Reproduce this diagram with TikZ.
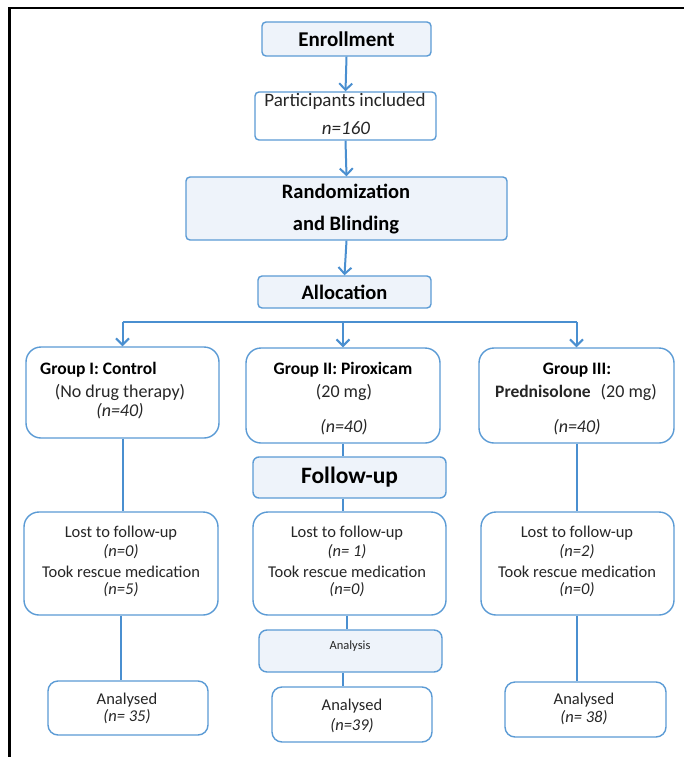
\documentclass[tikz,border=0pt]{standalone}
\usepackage{fontspec}
\setmainfont{Carlito}
\usetikzlibrary{arrows.meta}
\definecolor{bblue}{HTML}{5B9BD5}
\definecolor{ablue}{HTML}{4A8FD0}
\definecolor{fillb}{HTML}{EEF3FA}
\definecolor{ink}{HTML}{262626}
\begin{document}
\begin{tikzpicture}[x=1pt,y=-1pt,
  box/.style={draw=bblue,line width=1.4pt,rounded corners=#1,fill=white,inner sep=0pt},
  box/.default=4pt,
  hbox/.style={box=#1,fill=fillb},
  hbox/.default=4pt,
  conn/.style={draw=ablue,line width=2pt},
  arr/.style={conn,-{Straight Barb[length=6.5pt,width=13pt,line width=2pt]}},
  txt/.style={inner sep=0pt,text=ink,font=\fontsize{#1}{18}\selectfont},
  txt/.default=16.5,
  itx/.style={inner sep=0pt,text=ink,font=\fontsize{#1}{18}\selectfont\itshape},
  itx/.default=16.5,
  bt/.style={inner sep=0pt,text=black,font=\fontsize{#1}{#1}\selectfont\bfseries},
  bt/.default=17.5
]
\useasboundingbox (0,0) rectangle (683,757);
\fill[white] (0,0) rectangle (683,757);
% frame
\draw[line width=2.5pt,line cap=rect] (9.5,757) -- (9.5,8) -- (683,8);

% boxes
\node[hbox, minimum width=169pt, minimum height=34pt] (enroll) at (346.5,39) {};
\node[box, minimum width=181pt, minimum height=48pt] (part) at (345.5,116) {};
\node[hbox, minimum width=321pt, minimum height=63pt] (rand) at (346.5,208.5) {};
\node[hbox, minimum width=173pt, minimum height=32pt] (alloc) at (344.5,292) {};
\node[box=15pt, minimum width=193pt, minimum height=91pt] (g1) at (122.5,392.5) {};
\node[box=15pt, minimum width=194pt, minimum height=95pt] (g2) at (343,395.5) {};
\node[box=15pt, minimum width=195pt, minimum height=95pt] (g3) at (576.5,395.5) {};
\node[hbox=6pt, minimum width=193pt, minimum height=41pt] (fu) at (349.5,477.5) {};
\node[box=15pt, minimum width=194pt, minimum height=103pt] (l1) at (121,563.5) {};
\node[box=15pt, minimum width=193pt, minimum height=103pt] (l2) at (349.5,563.5) {};
\node[box=15pt, minimum width=193pt, minimum height=103pt] (l3) at (577.5,563.5) {};
\node[hbox=8pt, minimum width=183pt, minimum height=42pt] (an) at (350.5,651) {};
\node[box=10pt, minimum width=160pt, minimum height=54pt] (a1) at (128,708) {};
\node[box=10pt, minimum width=160pt, minimum height=55pt] (a2) at (352,714.5) {};
\node[box=10pt, minimum width=161pt, minimum height=55pt] (a3) at (585.5,709.5) {};

% connectors
\draw[arr] (enroll.south) -- (part.north);
\draw[arr] (part.south) -- (rand.north);
\draw[arr] (rand.south) -- (alloc.north);
\coordinate (barL) at (122.5,322);
\coordinate (barM) at (343,322);
\coordinate (barR) at (576.5,322);
\draw[conn] (barL) -- (barR);
\draw[arr] (barL) -- (g1.north);
\draw[arr] (barM) -- (g2.north);
\draw[arr] (barR) -- (g3.north);
\draw[conn] (g1.south) -- (g1.south |- l1.north);
\draw[conn] (l1.south) -- (l1.south |- a1.north);
\draw[conn] (g2.south) -- (g2.south |- fu.north);
\draw[conn] (g2.south |- fu.south) -- (g2.south |- l2.north);
\draw[conn] ([xshift=4pt]g2.south |- l2.south) -- ([xshift=4pt]g2.south |- an.north);
\draw[conn] (g2.south |- an.south) -- (g2.south |- a2.north);
\draw[conn] (g3.south) -- (g3.south |- l3.north);
\draw[conn] (g3.south |- l3.south) -- (g3.south |- a3.north);

% texts
\node[bt=21] (tEnroll) at (enroll.center) {Enrollment};
\node[txt=19] (tPart1) at (345,101) {Participants included};
\node[itx=19] (tPart2) at (346,128) {n=160};
\node[bt=20.5] (tRand1) at (346,191) {Randomization};
\node[bt=20.5] (tRand2) at (346,225) {and Blinding};
\node[bt=20.5] (tAlloc) at (alloc.center) {Allocation};

\node[bt, anchor=west] (tG1a) at (40,370) {Group I: Control};
\node[txt=18] (tG1b) at (120,392) {(No drug therapy)};
\node[itx=18] (tG1c) at (120,411) {(n=40)};
\node[bt] (tG2a) at (343,370) {Group II: Piroxicam};
\node[txt=18] (tG2b) at (344,392) {(20 mg)};
\node[itx=18] (tG2c) at (344,427) {(n=40)};
\node[bt] (tG3a) at (577,370) {Group III:};
\node[txt=18] (tG3b) at (576,392) {\textbf{\fontsize{17.5}{18}\selectfont Prednisolone}\hspace{10pt}(20 mg)};
\node[itx=18] (tG3c) at (577,427) {(n=40)};

\node[bt=23.5] (tFu) at (fu.center) {Follow-up};

\node[txt] (tL1a) at (121,533) {Lost to follow-up};
\node[itx] (tL1b) at (121,552) {(n=0)};
\node[txt] (tL1c) at (121,572) {Took rescue medication};
\node[itx] (tL1d) at (121,590) {(n=5)};
\node[txt] (tL2a) at (347,533) {Lost to follow-up};
\node[itx] (tL2b) at (347,552) {(n= 1)};
\node[txt] (tL2c) at (347,572) {Took rescue medication};
\node[itx] (tL2d) at (347,590) {(n=0)};
\node[txt] (tL3a) at (577,533) {Lost to follow-up};
\node[itx] (tL3b) at (577,552) {(n=2)};
\node[txt] (tL3c) at (577,572) {Took rescue medication};
\node[itx] (tL3d) at (577,590) {(n=0)};

\node[txt=12.5] (tAn) at (350,646) {Analysis};

\node[txt] (tA1a) at (127,700) {Analysed};
\node[itx] (tA1b) at (127,717) {(n= 35)};
\node[txt] (tA2a) at (352,706) {Analysed};
\node[itx] (tA2b) at (352,726) {(n=39)};
\node[txt] (tA3a) at (584,700) {Analysed};
\node[itx] (tA3b) at (584,718) {(n= 38)};
\end{tikzpicture}
\end{document}
